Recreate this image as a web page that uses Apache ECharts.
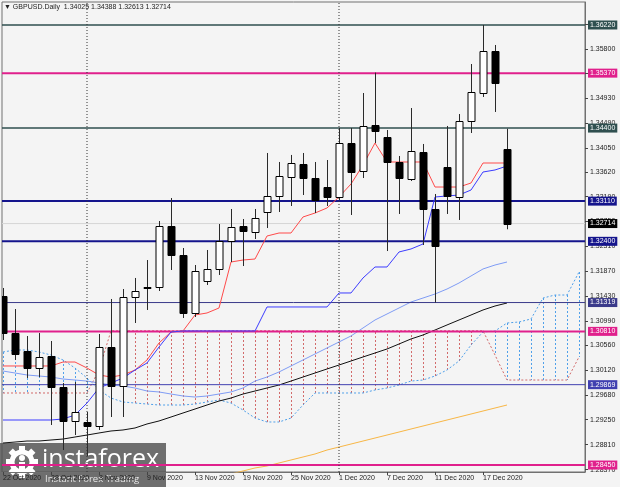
<!DOCTYPE html>
<html><head><meta charset="utf-8">
<script src="https://cdn.jsdelivr.net/npm/echarts@6/dist/echarts.min.js"></script>
<style>html,body{margin:0;padding:0;background:#f4f4f4}#c{width:620px;height:487px}</style>
</head><body><div id="c"></div>
<script>
// ---------------- data ----------------
const dates = ['22 Oct 2020','23 Oct 2020','26 Oct 2020','27 Oct 2020','28 Oct 2020','29 Oct 2020','30 Oct 2020',
 '2 Nov 2020','3 Nov 2020','4 Nov 2020','5 Nov 2020','6 Nov 2020','9 Nov 2020','10 Nov 2020','11 Nov 2020','12 Nov 2020','13 Nov 2020',
 '16 Nov 2020','17 Nov 2020','18 Nov 2020','19 Nov 2020','20 Nov 2020','23 Nov 2020','24 Nov 2020','25 Nov 2020','26 Nov 2020','27 Nov 2020','30 Nov 2020',
 '1 Dec 2020','2 Dec 2020','3 Dec 2020','4 Dec 2020','7 Dec 2020','8 Dec 2020','9 Dec 2020','10 Dec 2020','11 Dec 2020',
 '14 Dec 2020','15 Dec 2020','16 Dec 2020','17 Dec 2020','18 Dec 2020','21 Dec 2020'];
const openP  = [1.31435,1.30781,1.30464,1.30163,1.30375,1.29828,1.29228,1.29210,1.29139,1.30534,1.29846,1.31417,1.31594,1.31594,1.32671,1.32159,1.31135,
 1.31700,1.31912,1.32406,1.32671,1.32565,1.32918,1.33201,1.33536,1.33766,1.33518,1.33359,
 1.33183,1.34136,1.33642,1.34454,1.34242,1.33801,1.33501,1.33978,1.32971,1.33713,1.33183,1.34525,1.35019,1.35761,1.34025];
const highP  = [1.31576,1.31205,1.30728,1.30781,1.30640,1.29898,1.29916,1.29386,1.30764,1.31382,1.31558,1.31753,1.32070,1.32759,1.33165,1.32282,1.31982,
 1.32247,1.32706,1.32971,1.32794,1.32971,1.33960,1.33801,1.33925,1.33960,1.33801,1.33836,
 1.34401,1.34401,1.35019,1.35380,1.34366,1.33907,1.34754,1.34119,1.33236,1.34437,1.34648,1.35531,1.36220,1.35867,1.34388];
const lowP   = [1.30658,1.30305,1.29987,1.30004,1.29157,1.28715,1.28980,1.28609,1.29069,1.29298,1.29298,1.30958,1.31188,1.31523,1.31894,1.31046,1.31064,
 1.31629,1.31806,1.32035,1.31964,1.32441,1.32635,1.32918,1.33024,1.33218,1.32900,1.33024,
 1.33130,1.32865,1.33518,1.34136,1.32229,1.32883,1.33465,1.32335,1.31319,1.32883,1.32777,1.34313,1.34949,1.34684,1.32613];
const closeP = [1.30781,1.30411,1.30163,1.30358,1.29828,1.29228,1.29386,1.29139,1.30534,1.29846,1.31417,1.31523,1.31576,1.32671,1.32159,1.31135,1.31876,
 1.31912,1.32406,1.32653,1.32582,1.32812,1.33201,1.33554,1.33783,1.33518,1.33130,1.33183,
 1.34136,1.33624,1.34437,1.34348,1.33801,1.33518,1.33995,1.32971,1.32318,1.33201,1.34525,1.35037,1.35761,1.35196,1.32714];

const tenkan = [1.30199,1.30199,1.30199,1.30199,1.30199,1.30269,1.30269,1.30163,1.30040,1.30004,1.30040,1.30128,1.30305,1.30605,1.30799,1.30817,1.31099,
 1.31135,1.31223,1.32035,1.32070,1.32088,1.32494,1.32547,1.32547,1.32830,1.32900,1.32989,
 1.33183,1.33412,1.33748,1.34136,1.33801,1.33801,1.33801,1.33801,1.33359,1.33359,1.33359,1.33430,1.33783,1.33783,1.33783];
const kijun  = [1.29245,1.29245,1.29245,1.29245,1.29245,1.29263,1.29333,1.29545,1.29810,1.29898,1.29987,1.30128,1.30252,1.30534,1.30799,1.30817,1.30817,
 1.30817,1.30817,1.30817,1.30817,1.30817,1.31241,1.31241,1.31241,1.31241,1.31241,1.31241,
 1.31488,1.31488,1.31753,1.31947,1.31947,1.32212,1.32265,1.32353,1.33183,1.33201,1.33218,1.33306,1.33624,1.33660,1.33730];
// Senkou spans, drawn 26 bars ahead (49 slots)
const senkouA = [1.30446,1.30481,1.30481,1.30446,1.30393,1.30305,1.30163,1.29987,1.29775,1.29633,1.29563,1.29545,1.29527,1.29510,1.29510,1.29510,1.29527,
 1.29563,1.29598,1.29545,1.29422,1.29280,1.29210,1.29210,1.29280,1.29510,1.29722,1.29722,
 1.29722,1.29722,1.29722,1.29775,1.29810,1.29863,1.29933,1.29951,1.30022,1.30128,1.30287,1.30569,1.30799,1.30817,1.30958,
 1.30976,1.31029,1.31399,1.31452,1.31452,1.31858];
const senkouB = [1.29722,1.29722,1.29722,1.29722,1.29722,1.29722,1.29722,1.29722,1.30128,1.30820,1.30820,1.30820,1.30820,1.30820,1.30820,1.30820,1.30820,
 1.30820,1.30820,1.30820,1.30820,1.30820,1.30820,1.30820,1.30820,1.30820,1.30820,1.30820,
 1.30820,1.30820,1.30820,1.30820,1.30820,1.30820,1.30820,1.30820,1.30820,1.30820,1.30820,1.30820,1.30820,1.30393,1.29951,
 1.29951,1.29951,1.29951,1.29951,1.29951,1.30358];

const maLight = [1.30110,1.30075,1.30040,1.30022,1.30004,1.29969,1.29951,1.29933,1.29898,1.29863,1.29845,1.29810,1.29757,1.29740,1.29704,1.29669,1.29651,
 1.29669,1.29704,1.29740,1.29810,1.29933,1.30004,1.30093,1.30199,1.30305,1.30411,1.30517,
 1.30623,1.30729,1.30870,1.31011,1.31117,1.31223,1.31329,1.31399,1.31470,1.31558,1.31664,1.31788,1.31912,1.31982,1.32035];
const maBlack = [1.28839,1.28856,1.28874,1.28874,1.28892,1.28909,1.28945,1.28980,1.29016,1.29051,1.29069,1.29104,1.29175,1.29228,1.29298,1.29369,1.29439,
 1.29510,1.29580,1.29633,1.29704,1.29757,1.29810,1.29863,1.29933,1.30004,1.30075,1.30146,
 1.30216,1.30287,1.30358,1.30428,1.30499,1.30587,1.30676,1.30746,1.30834,1.30923,1.31011,1.31099,1.31188,1.31258,1.31311];
const maOrange = [null,null,null,null,null,null,null,null,null,null,null,null,null,null,null,null,null,
 1.28186,1.28239,1.28292,1.28345,1.28398,1.28433,1.28486,1.28539,1.28592,1.28645,1.28715,
 1.28768,1.28821,1.28874,1.28927,1.28980,1.29033,1.29086,1.29139,1.29192,1.29245,1.29298,1.29351,1.29404,1.29457,1.29510];

const yTicks = [1.28370,1.28810,1.29250,1.29680,1.30120,1.30560,1.30990,1.31430,1.31870,1.32310,1.32750,1.33190,1.33620,1.34050,1.34490,1.34930,1.35370,1.35800,1.36240];
const xLabelIdx = [0,4,8,12,16,20,24,28,32,36,40];
const levelValues = [1.36220,1.35370,1.34400,1.33110,1.32400,1.31319,1.30810,1.29869,1.28450];
const levelColors = ['#2f4f4f','#e0208c','#2f4f4f','#14148c','#14148c','#3a3a8a','#e0208c','#4040b0','#e0208c'];
const levelWidths = [1.5,2,1.5,2,2,1,2,1,2];
const lastPrice = 1.32714;
const separatorIdx = [7,28];
const titleText = '\u25BC GBPUSD.Daily  1.34025 1.34388 1.32613 1.32714';

// ---------------- chart ----------------
const X_MIN = -1/12, X_MAX = 48.5, Y_MIN = 1.28327, Y_MAX = 1.36626;
const FONT = '"Liberation Sans", Arial, sans-serif';
const chart = echarts.init(document.getElementById('c'));
const series = [];

series.push({
  type:'custom', z:1, clip:true, silent:true,
  data: senkouA.map((a,i)=>[i,a,senkouB[i]]),
  encode:{x:0,y:[1,2]},
  renderItem(params, api){
    const i=api.value(0), a=api.value(1), b=api.value(2);
    const pa=api.coord([i,a]), pb=api.coord([i,b]);
    const x=Math.round(pa[0])+0.5;
    return {type:'line', shape:{x1:x,y1:pa[1],x2:x,y2:pb[1]},
      style:{stroke: b>a ? '#d26a6a' : '#4fa0ea', lineWidth:1, lineDash:[2,2]}};
  }
});
series.push({type:'line', z:2, silent:true, symbol:'none', data: senkouA.map((v,i)=>[i,v]),
  lineStyle:{color:'#4fa0ea', width:1, type:[2,2]}});
series.push({type:'line', z:2, silent:true, symbol:'none', data: senkouB.map((v,i)=>[i,v]),
  lineStyle:{color:'#d26a6a', width:1, type:[2,2]}});

series.push({type:'line', z:2, silent:true, symbol:'none', data: maLight.map((v,i)=>[i,v]), lineStyle:{color:'#7f9cf5', width:1}});
series.push({type:'line', z:2, silent:true, symbol:'none', data: maBlack.map((v,i)=>[i,v]), lineStyle:{color:'#111', width:1}});
series.push({type:'line', z:2, silent:true, symbol:'none', connectNulls:false, data: maOrange.map((v,i)=>[i,v]), lineStyle:{color:'#f7b645', width:1}});

levelValues.forEach((v,k)=>{
  series.push({type:'line', z:3, silent:true, symbol:'none', data:[[X_MIN,v],[X_MAX,v]],
    lineStyle:{color:levelColors[k], width:levelWidths[k]},
    endLabel:{show:true, formatter:v.toFixed(5), backgroundColor:levelColors[k], color:'#fff',
      fontSize:7, fontFamily:FONT, padding:[1,2,1,2], distance:3}});
});
series.push({type:'line', z:2, silent:true, symbol:'none', data:[[X_MIN,lastPrice],[X_MAX,lastPrice]],
  lineStyle:{color:'#d6d6d6', width:1},
  endLabel:{show:true, formatter:lastPrice.toFixed(5), backgroundColor:'#000', color:'#fff',
    fontSize:7, fontFamily:FONT, padding:[1,2,1,2], distance:3}});

separatorIdx.forEach(s=>{
  series.push({type:'line', z:3, silent:true, symbol:'none', data:[[s,Y_MIN],[s,Y_MAX]],
    lineStyle:{color:'#333', width:1, type:[1,2]}});
});

series.push({type:'line', z:4, silent:true, symbol:'none', data: tenkan.map((v,i)=>[i,v]), lineStyle:{color:'#ff4a4a', width:1}});
series.push({type:'line', z:4, silent:true, symbol:'none', data: kijun.map((v,i)=>[i,v]), lineStyle:{color:'#3c3cff', width:1}});

series.push({
  type:'custom', z:6, clip:true, silent:true,
  data: dates.map((d,i)=>[i,openP[i],highP[i],lowP[i],closeP[i]]),
  encode:{x:0,y:[1,2,3,4]},
  renderItem(params, api){
    const i=api.value(0), o=api.value(1), h=api.value(2), l=api.value(3), c=api.value(4);
    const po=api.coord([i,o]), pc=api.coord([i,c]), ph=api.coord([i,h]), pl=api.coord([i,l]);
    const x=Math.round(po[0])+0.5;
    const top=Math.round(Math.min(po[1],pc[1]))+0.5, bot=Math.round(Math.max(po[1],pc[1]))+0.5;
    const up=c>=o;
    return {type:'group', children:[
      {type:'line', shape:{x1:x,y1:ph[1],x2:x,y2:pl[1]}, style:{stroke:'#2a2a2a', lineWidth:1}},
      {type:'rect', shape:{x:x-3.5, y:top, width:7, height:Math.max(bot-top,1)},
        style:{fill: up?'#ffffff':'#000000', stroke:'#000', lineWidth:1}}
    ]};
  }
});

const gear = [];
for(let t=0;t<8;t++){
  gear.push({type:'rect', shape:{x:-3, y:-16, width:6, height:6}, rotation: t*Math.PI/4, x:22, y:19,
    style:{fill:'#ffffff'}});
}
gear.push({type:'circle', shape:{cx:22, cy:19, r:10}, style:{fill:'none', stroke:'#ffffff', lineWidth:5}});
gear.push({type:'circle', shape:{cx:22, cy:15, r:3}, style:{fill:'#ffffff'}});
gear.push({type:'rect', shape:{x:19, y:19, width:6, height:10}, style:{fill:'#ffffff'}});

const option = {
  backgroundColor:'#f4f4f4',
  animation:false,
  grid:{left:2,right:35,top:2,bottom:15,show:true,borderColor:'#707070',borderWidth:1,backgroundColor:'#f4f4f4'},
  xAxis:{type:'value',min:X_MIN,max:X_MAX,splitLine:{show:false},
    axisLine:{show:true,onZero:false,lineStyle:{color:'#707070'}},
    axisTick:{show:true,customValues:xLabelIdx,length:3,lineStyle:{color:'#444'}},
    axisLabel:{customValues:xLabelIdx,formatter:v=>dates[Math.round(v)]||'',align:'left',
      fontSize:7,fontFamily:FONT,color:'#222',margin:3}},
  yAxis:{type:'value',position:'right',min:Y_MIN,max:Y_MAX,splitLine:{show:false},
    axisLine:{show:true,onZero:false,lineStyle:{color:'#707070'}},
    axisTick:{show:true,customValues:yTicks,length:3,lineStyle:{color:'#444'}},
    axisLabel:{customValues:yTicks,formatter:v=>v.toFixed(5),fontSize:7,fontFamily:FONT,color:'#222',margin:5}},
  series,
  graphic:[
    {type:'text', left:4, top:4, z:20, style:{text:titleText, fill:'#222', font:'7px '+FONT}},
    {type:'group', left:0, top:443, z:20, children:[
      {type:'rect', shape:{x:0,y:0,width:166,height:44}, style:{fill:'rgba(80,80,80,0.82)'}},
      ...gear,
      {type:'text', x:42, y:17, style:{text:'instaforex', fill:'#ffffff', font:'25px "Open Sans", sans-serif', verticalAlign:'middle'}},
      {type:'text', x:45, y:36, style:{text:'Instant Forex Trading', fill:'#e6e6e6', font:'9.5px "Open Sans", sans-serif', verticalAlign:'middle'}}
    ]}
  ]
};
chart.setOption(option);
</script>
</body></html>
